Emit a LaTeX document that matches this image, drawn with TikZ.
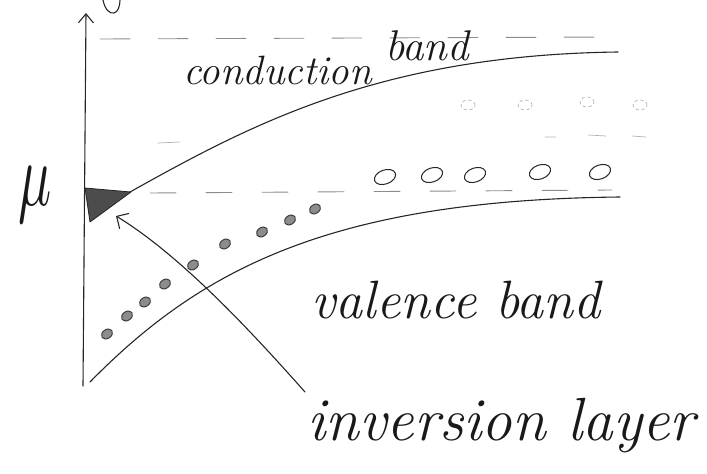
\documentclass[tikz,border=0pt]{standalone}
\usetikzlibrary{arrows.meta}
\begin{document}
\begin{tikzpicture}[x=1pt,y=-1pt, line cap=round, line join=round,
 ink/.style={line width=1.1pt, black!85},
 guide/.style={line width=0.9pt, black!45},
 hole/.style={draw=black!80, line width=0.9pt, fill=black!45},
 electron/.style={draw=black!85, line width=1pt},
 faint/.style={draw=black!30, line width=0.7pt},
 hand/.style={inner sep=0pt, text=black!90}]
\useasboundingbox (0,0) rectangle (707,474);
% energy axis
\coordinate (axbot) at (83,386);
\coordinate (axtop) at (86,13);
\draw[ink, -{Straight Barb[length=9pt,width=15pt]}] (axbot) -- (axtop);
% fragment of axis label cut at the top edge
\draw[ink] (103,0) .. controls (105,10) and (110,14) .. (114,13) .. controls (118,12) and (120,6) .. (120,0);
% dashed guide lines
\draw[guide, dash pattern=on 30pt off 28pt] (100,39) -- (612,37);
\draw[guide, dash pattern=on 26pt off 30pt] (150,193) -- (612,190);
\draw[faint] (158,143) -- (180,142);
\draw[faint] (545,137) -- (556,137) (588,135) -- (606,136) (632,136) -- (646,137);
% bands
\draw[ink] (130,192) .. controls (250,125) and (380,55) .. (618,52);
\draw[ink] (90,382) .. controls (200,270) and (330,200) .. (620,197);
% inversion region at the surface
\fill[black!70, draw=black!85, line width=0.8pt] (85,188) -- (131,192) -- (90,222) -- cycle;
% holes near valence band edge
\foreach \x/\y in {107/334,127/316,145/302,165/284,193/265,225/244,262/232,290/220,315/209}
  \draw[hole, rotate around={35:(\x,\y)}] (\x,\y) ellipse (6pt and 4.5pt);
% electrons below conduction band
\foreach \x/\y in {385/177,432/175,475/175,540/172,600/172}
  \draw[electron, rotate around={20:(\x,\y)}] (\x,\y) ellipse (11pt and 7pt);
% faint states
\foreach \x/\y in {468/105,525/105,587/102,640/105}
  \draw[faint, dashed] (\x,\y) ellipse (7pt and 5pt);
% labels
\node[hand, anchor=base west, font=\fontsize{41}{41}\selectfont\itshape] (cond) at (183,84) {conduction};
\node[hand, anchor=base west, font=\fontsize{43}{43}\selectfont\itshape] (band) at (385,60) {band};
\node[hand, font=\fontsize{54}{54}\selectfont\itshape] (val) at (456,300) {valence band};
\node[hand, font=\fontsize{61}{61}\selectfont\itshape] (inv) at (501,426) {inversion layer};
\node[hand] (mu) at (35,195) {\scalebox{5.5}[9]{$\mu$}};
% arrow from label to inversion layer
\coordinate (invstart) at (305,392);
\coordinate (invtip) at (116,216);
\draw[ink, -{Straight Barb[length=9pt,width=18pt]}] (invstart) .. controls (250,330) and (180,255) .. (invtip);
\end{tikzpicture}
\end{document}
